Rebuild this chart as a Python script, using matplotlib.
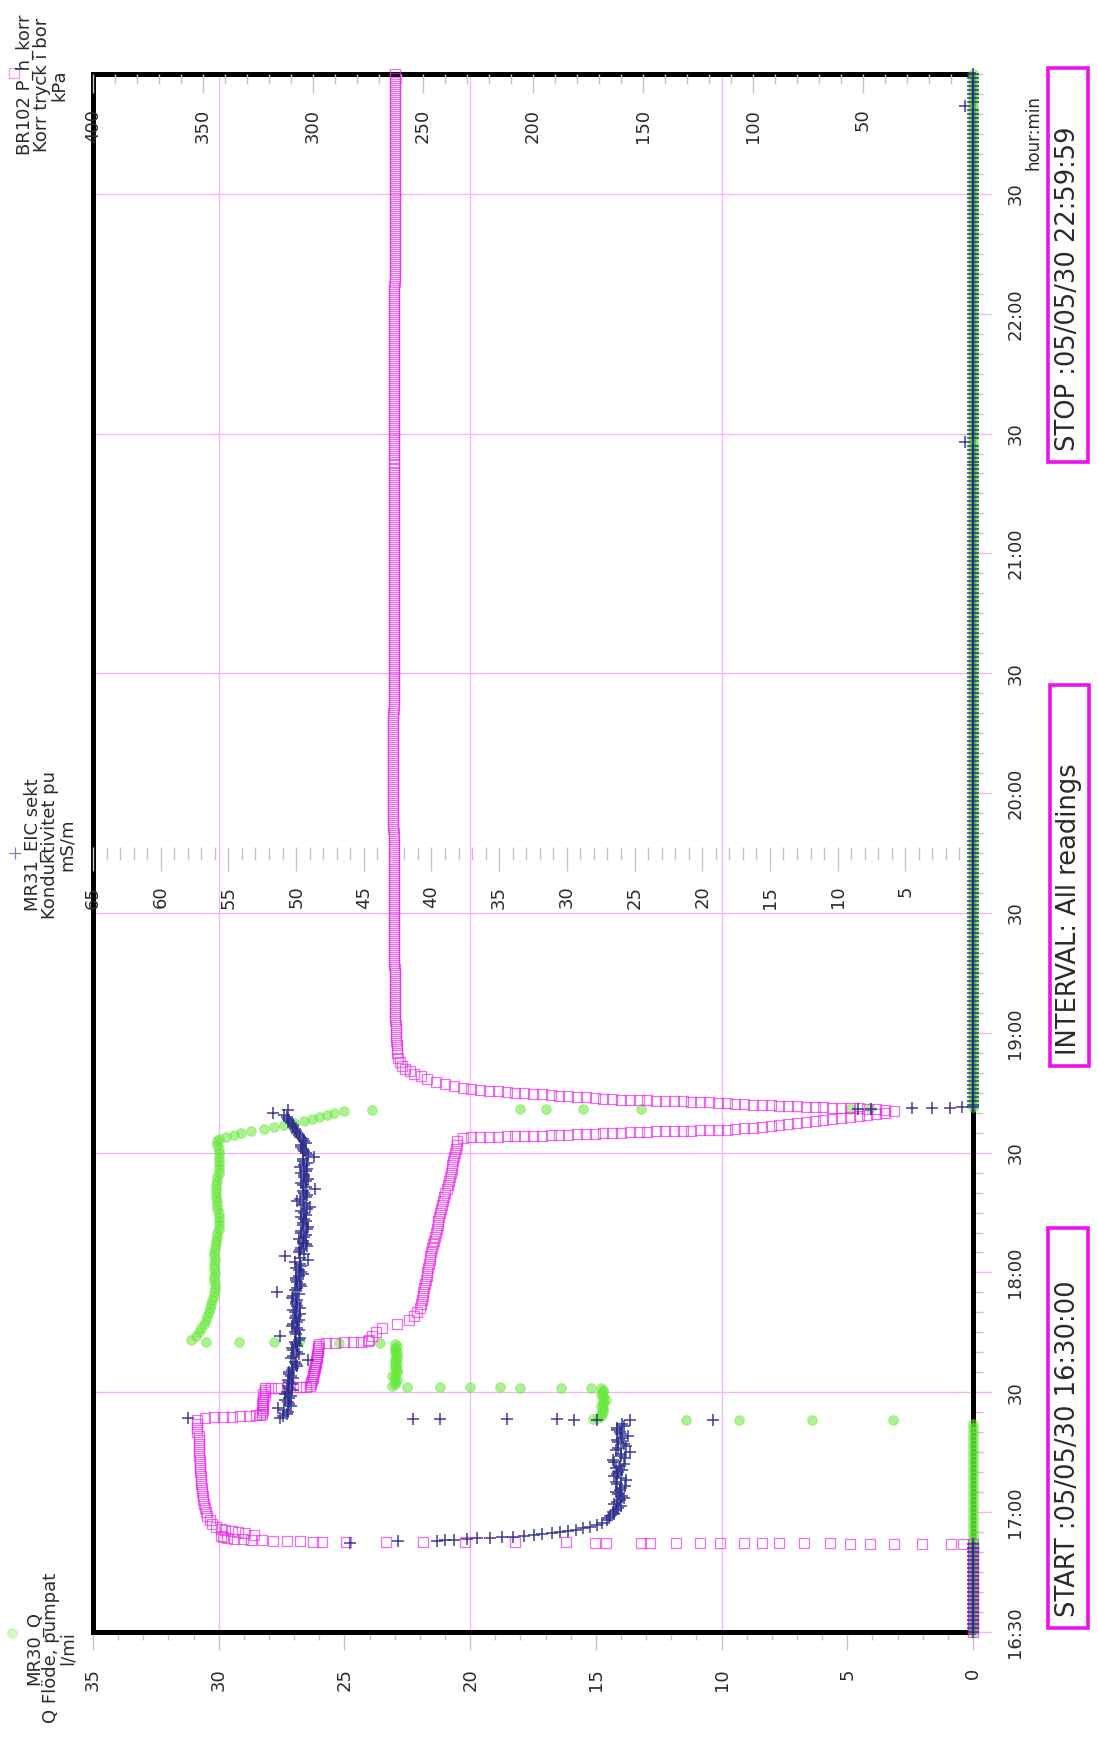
import numpy as np
import matplotlib
matplotlib.use("Agg")
import matplotlib.pyplot as plt
from matplotlib.ticker import FixedLocator, MultipleLocator
from matplotlib.patches import Rectangle
from matplotlib.lines import Line2D

plt.rcParams["font.family"] = ["DejaVu Sans"]

# ------------------------------------------------------------------
# Logged readings, time in minutes after 16:30:00 (05/05/30)
# ------------------------------------------------------------------
scan_idle_q = np.arange(0, 53, 1)    # flow channel, quiet scans 16:30-16:52
scan_idle = np.arange(0, 23, 1)      # EC and pressure, quiet scans 16:30-16:52
scan_rest = np.arange(146, 391, 1)   # all channels, quiet scans 18:56-23:00
scan_stop = [131.5, 132, 133, 134, 135, 136, 137, 138, 139, 140, 141, 142,
             143, 144, 145]

# --- MR30_Q  Q Flöde, pumpat  (l/min) ---
q_idle = [0, 0, 0, 0, 0, 0, 0, 0, 0, 0, 0, 0, 0, 0, 0, 0, 0, 0, 0, 0,
          0, 0, 0, 0, 0, 0, 0, 0, 0, 0, 0, 0, 0, 0, 0, 0, 0, 0, 0, 0,
          0, 0, 0, 0, 0, 0, 0, 0, 0, 0, 0, 0, 0]
q_step1_t = [53.0, 53.05, 53.1, 53.15, 53.2]
q_step1 = [3.2, 6.4, 9.3, 11.4, 15.1]
q_lvl1_t = [53.5, 54.0, 54.5, 55.0, 55.5, 56.0, 56.5, 57.0, 57.5, 58.0, 58.5,
            59.0, 59.5, 60.0, 60.5, 61.0]
q_lvl1 = [14.9, 14.8, 14.8, 14.7, 14.7, 14.7, 14.8, 14.7, 14.7, 14.6, 14.7,
          14.7, 14.8, 14.7, 14.7, 14.8]
q_step2_t = [61.1, 61.15, 61.2, 61.25, 61.3, 61.35, 61.4]
q_step2 = [15.2, 16.4, 18.0, 18.8, 20.0, 21.2, 22.5]
q_lvl2_t = [61.5, 62.0, 62.5, 63.0, 63.5, 64.0, 64.5, 65.0, 65.5, 66.0, 66.5,
            67.0, 67.5, 68.0, 68.5, 69.0, 69.5, 70.0, 70.5, 71.0, 71.5, 72.0]
q_lvl2 = [23.1, 23.0, 23.0, 22.9, 23.0, 23.1, 23.0, 22.9, 22.9, 23.0, 23.0,
          22.9, 23.0, 23.0, 22.9, 22.9, 23.0, 22.9, 23.0, 23.0, 22.9, 23.0]
q_step3_t = [72.4, 72.45, 72.5, 72.55, 72.6, 72.65]
q_step3 = [23.6, 25.2, 26.8, 27.8, 29.2, 30.5]
q_lvl3_t = list(range(73, 124))
q_lvl3 = [31.1, 30.9, 30.8, 30.7, 30.6, 30.5, 30.45, 30.4, 30.35, 30.3,
          30.25, 30.2, 30.2, 30.15, 30.15, 30.2, 30.2, 30.15, 30.2, 30.2,
          30.15, 30.2, 30.2, 30.15, 30.1, 30.1, 30.05, 30.05, 30.0, 30.0,
          30.0, 30.0, 30.0, 30.05, 30.05, 30.05, 30.1, 30.1, 30.1, 30.1,
          30.05, 30.05, 30.0, 30.0, 30.0, 30.0, 30.0, 30.0, 30.0, 30.05,
          30.05]
q_fall_t = [123.5, 124.0, 124.5, 125.0, 125.5, 126.0, 126.5, 127.0, 127.5,
            128.0, 128.5, 129.0, 129.5, 130.0, 130.5]
q_fall = [30.0, 29.7, 29.4, 29.1, 28.7, 28.2, 27.8, 27.4, 27.0, 26.6, 26.3,
          26.0, 25.7, 25.4, 25.0]
q_off_t = [130.75, 130.8, 130.85, 130.9, 130.95, 131.0, 131.05]
q_off = [23.9, 18.0, 17.0, 15.5, 13.2, 4.9, 4.1]
q_stop = [0, 0, 0, 0, 0, 0, 0, 0, 0, 0, 0, 0, 0, 0, 0]
q_rest = [0, 0, 0, 0, 0, 0, 0, 0, 0, 0, 0, 0, 0, 0, 0, 0, 0, 0, 0, 0,
          0, 0, 0, 0, 0, 0, 0, 0, 0, 0, 0, 0, 0, 0, 0, 0, 0, 0, 0, 0,
          0, 0, 0, 0, 0, 0, 0, 0, 0, 0, 0, 0, 0, 0, 0, 0, 0, 0, 0, 0,
          0, 0, 0, 0, 0, 0, 0, 0, 0, 0, 0, 0, 0, 0, 0, 0, 0, 0, 0, 0,
          0, 0, 0, 0, 0, 0, 0, 0, 0, 0, 0, 0, 0, 0, 0, 0, 0, 0, 0, 0,
          0, 0, 0, 0, 0, 0, 0, 0, 0, 0, 0, 0, 0, 0, 0, 0, 0, 0, 0, 0,
          0, 0, 0, 0, 0, 0, 0, 0, 0, 0, 0, 0, 0, 0, 0, 0, 0, 0, 0, 0,
          0, 0, 0, 0, 0, 0, 0, 0, 0, 0, 0, 0, 0, 0, 0, 0, 0, 0, 0, 0,
          0, 0, 0, 0, 0, 0, 0, 0, 0, 0, 0, 0, 0, 0, 0, 0, 0, 0, 0, 0,
          0, 0, 0, 0, 0, 0, 0, 0, 0, 0, 0, 0, 0, 0, 0, 0, 0, 0, 0, 0,
          0, 0, 0, 0, 0, 0, 0, 0, 0, 0, 0, 0, 0, 0, 0, 0, 0, 0, 0, 0,
          0, 0, 0, 0, 0, 0, 0, 0, 0, 0, 0, 0, 0, 0, 0, 0, 0, 0, 0, 0,
          0, 0, 0, 0, 0]

# --- MR31_EIC sekt  Konduktivitet  (mS/m) ---
ec_idle = [0, 0, 0, 0, 0, 0, 0, 0, 0, 0, 0, 0, 0, 0, 0, 0, 0, 0, 0, 0,
           0, 0, 0]
ec_rise_t = [22.4, 22.7, 22.85, 23.0, 23.15, 23.3, 23.45, 23.6, 23.75, 23.9,
             24.1, 24.3, 24.5, 24.75, 25.0, 25.3, 25.6, 26.0, 26.4, 26.9, 27.4]
ec_rise = [46.0, 42.5, 39.6, 39.0, 38.3, 37.4, 36.6, 35.7, 34.8, 34.0, 33.2,
           32.4, 31.8, 31.1, 30.5, 29.9, 29.3, 28.8, 28.3, 27.8, 27.4]
ec_lvl1_t = list(range(28, 53))
ec_lvl1 = [27.0, 26.8, 26.6, 26.2, 26.5, 26.1, 25.9, 26.4, 26.0, 26.3, 25.6,
           26.5, 26.2, 26.4, 25.8, 26.6, 26.0, 25.3, 26.2, 25.8, 26.3, 25.5,
           26.1, 26.3, 25.9]
ec_lvl1b_t = [28.5, 29.5, 30.5, 31.5, 32.5, 33.5, 34.5, 35.5, 36.5, 37.5,
              38.5, 39.5, 40.5, 41.5, 42.5, 43.5, 44.5, 45.5, 46.5, 47.5,
              48.5, 49.5, 50.5, 51.5]
ec_lvl1b = [26.9, 26.5, 26.4, 26.0, 26.3, 25.8, 26.2, 26.1, 25.7, 26.4, 26.0,
            26.3, 25.9, 26.1, 26.5, 25.7, 26.0, 26.4, 25.6, 26.2, 25.9, 26.0,
            26.3, 25.8]
ec_jump_t = [53.0, 53.05, 53.1, 53.15, 53.2, 53.25, 53.3, 53.35, 53.45, 53.55]
ec_jump = [19.2, 25.3, 27.8, 29.5, 30.7, 34.4, 39.4, 41.4, 58.0, 51.2]
ec_lvl2_t = list(range(54, 131))
ec_lvl2 = [51.0, 50.6, 51.3, 50.5, 50.8, 50.4, 50.7, 50.5, 50.3, 50.6,
           50.4, 50.5, 50.2, 50.0, 49.1, 50.2, 49.9, 50.3, 50.0, 49.8,
           51.2, 50.1, 49.9, 50.2, 49.8, 50.0, 50.1, 49.7, 50.0, 49.9,
           50.2, 51.4, 49.9, 49.7, 50.0, 49.8, 49.6, 50.0, 49.7, 49.1,
           50.8, 49.8, 49.6, 49.3, 49.5, 49.4, 49.6, 49.2, 49.5, 49.3,
           49.6, 49.4, 49.2, 49.5, 49.9, 49.3, 49.4, 48.6, 49.5, 49.3,
           49.4, 49.6, 49.2, 49.4, 49.5, 48.7, 49.3, 49.5, 49.6, 49.4,
           49.7, 49.9, 50.1, 50.2, 50.5, 50.7, 51.7]
ec_lvl2b_t = [54.5, 55.5, 56.5, 57.5, 58.5, 59.5, 60.5, 61.5, 62.5, 63.5,
              64.5, 65.5, 66.5, 67.5, 68.5, 69.5, 70.5, 71.5, 72.5, 73.5,
              74.5, 75.5, 76.5, 77.5, 78.5, 79.5, 80.5, 81.5, 82.5, 83.5,
              84.5, 85.5, 86.5, 87.5, 88.5, 89.5, 90.5, 91.5, 92.5, 93.5,
              94.5, 95.5, 96.5, 97.5, 98.5, 99.5, 100.5, 101.5, 102.5, 103.5,
              104.5, 105.5, 106.5, 107.5, 108.5, 109.5, 110.5, 111.5, 112.5,
              113.5, 114.5, 115.5, 116.5, 117.5, 118.5, 119.5, 120.5, 121.5,
              122.5, 123.5, 124.5, 125.5, 126.5, 127.5, 128.5, 129.5]
ec_lvl2b = [50.7, 50.9, 50.4, 50.6, 50.5, 50.8, 50.3, 50.6, 50.5, 50.2,
            50.5, 50.3, 49.9, 50.1, 50.4, 49.8, 50.2, 49.9, 50.1, 49.7,
            50.0, 49.8, 50.3, 49.9, 50.1, 49.7, 50.2, 49.9, 50.0, 50.3,
            49.8, 50.1, 49.6, 49.9, 50.0, 49.5, 49.8, 49.6, 50.1, 49.7,
            49.4, 49.7, 49.2, 49.5, 49.8, 49.3, 49.6, 49.1, 49.5, 49.4,
            49.3, 49.6, 49.0, 49.4, 49.7, 49.2, 49.5, 49.3, 49.6, 49.1,
            49.4, 49.3, 49.7, 49.2, 49.5, 49.1, 49.4, 49.6, 49.3, 49.5,
            49.8, 50.0, 50.2, 50.4, 50.6, 50.9]
ec_off_t = [130.6, 130.9, 131.0, 131.1, 131.15, 131.2, 131.3]
ec_off = [50.6, 8.5, 7.5, 4.5, 3.0, 1.7, 0.8]
ec_stop = [0, 0, 0, 0, 0, 0, 0, 0, 0, 0, 0, 0, 0, 0, 0]
ec_rest = [0, 0, 0, 0, 0, 0, 0, 0, 0, 0, 0, 0, 0, 0, 0, 0, 0, 0, 0, 0,
           0, 0, 0, 0, 0, 0, 0, 0, 0, 0, 0, 0, 0, 0, 0, 0, 0, 0, 0, 0,
           0, 0, 0, 0, 0, 0, 0, 0, 0, 0, 0, 0, 0, 0, 0, 0, 0, 0, 0, 0,
           0, 0, 0, 0, 0, 0, 0, 0, 0, 0, 0, 0, 0, 0, 0, 0, 0, 0, 0, 0,
           0, 0, 0, 0, 0, 0, 0, 0, 0, 0, 0, 0, 0, 0, 0, 0, 0, 0, 0, 0,
           0, 0, 0, 0, 0, 0, 0, 0, 0, 0, 0, 0, 0, 0, 0, 0, 0, 0, 0, 0,
           0, 0, 0, 0, 0, 0, 0, 0, 0, 0, 0, 0, 0, 0, 0, 0, 0, 0, 0, 0,
           0, 0, 0, 0, 0, 0, 0, 0, 0, 0, 0, 0, 0.6, 0, 0, 0, 0, 0, 0, 0,
           0, 0, 0, 0, 0, 0, 0, 0, 0, 0, 0, 0, 0, 0, 0, 0, 0, 0, 0, 0,
           0, 0, 0, 0, 0, 0, 0, 0, 0, 0, 0, 0, 0, 0, 0, 0, 0, 0, 0, 0,
           0, 0, 0, 0, 0, 0, 0, 0, 0, 0, 0, 0, 0, 0, 0, 0, 0, 0, 0, 0,
           0, 0, 0, 0, 0, 0, 0, 0, 0, 0, 0, 0, 0, 0, 0, 0, 0.6, 0, 0, 0,
           0, 0, 0, 0, 0]

# --- BR102 P_h_korr  Korr tryck i borrhål  (kPa) ---
p_idle = [0, 0, 0, 0, 0, 0, 0, 0, 0, 0, 0, 0, 0, 0, 0, 0, 0, 0, 0, 0,
          0, 0, 0]
p_jump_t = [22.05, 22.07, 22.09, 22.11, 22.13, 22.15, 22.17, 22.19, 22.21,
            22.23, 22.25, 22.27, 22.29, 22.31, 22.33, 22.35, 22.37, 22.39,
            22.41, 22.43, 22.45, 22.47, 22.49, 22.51, 22.53]
p_jump = [4.5, 10, 23, 36, 47, 56, 65, 77, 88, 96, 104, 115, 124, 135, 147,
          151, 167, 172, 185, 208, 231, 250, 267, 285, 296]
p_rise_t = [22.6, 22.7, 22.8, 22.9, 23.0, 23.1, 23.2, 23.4, 23.6, 23.8, 24.1,
            24.4, 24.7, 25.0, 25.3, 25.6, 25.9, 26.2]
p_rise = [300, 306, 312, 318, 323, 328, 332, 336, 339, 341, 342,
          327, 331, 334, 337, 340, 342, 344]
p_lvl1_t = list(range(27, 54))
p_lvl1 = [346, 347, 348, 348.5, 349, 349.5, 350, 350, 350.5, 350.5, 351, 351,
          351, 351.5, 351.5, 351.5, 351.5, 352, 352, 352, 352, 352, 352,
          352.5, 352.5, 352.5, 352.5]
p_step1_t = [53.6, 53.7, 53.8, 53.9, 54.0, 54.1, 54.2, 54.3]
p_step1 = [349, 345, 341, 337, 333, 329, 326, 324]
p_lvl2_t = [54.5, 55.0, 55.5, 56.0, 56.5, 57.0, 57.5, 58.0, 58.5, 59.0, 59.5,
            60.0, 60.5, 61.0]
p_lvl2 = [323, 323, 322.5, 322.5, 322.5, 323, 322.5, 322.5, 322.5, 322,
          322.5, 322, 322, 322]
p_step2_t = [61.1, 61.15, 61.2, 61.25, 61.3, 61.35]
p_step2 = [319, 316, 312, 309, 306, 303]
p_lvl3_t = [61.5, 62.0, 62.5, 63.0, 63.5, 64.0, 64.5, 65.0, 65.5, 66.0, 66.5,
            67.0, 67.5, 68.0, 68.5, 69.0, 69.5, 70.0, 70.5, 71.0, 71.5, 72.0]
p_lvl3 = [301.5, 301, 300.8, 300.5, 300.2, 300, 299.8, 299.6, 299.4, 299.2,
          299, 298.8, 298.6, 298.5, 298.3, 298.2, 298, 297.9, 297.8, 297.6,
          297.5, 297.4]
p_step3_t = [72.3, 72.4, 72.5, 72.6, 72.7, 72.8]
p_step3 = [294, 290, 286, 282, 278, 275]
p_decl_t = list(range(73, 124))
p_decl = [274.5, 273, 271.5, 268.5, 262, 256.5, 254, 252.5, 251.5, 251,
          250.6, 250.2, 249.8, 249.5, 249.2, 248.8, 248.4, 248.0, 247.6,
          247.3, 247.0, 246.6, 246.2, 245.8, 245.4, 245.0, 244.6, 244.2,
          243.8, 243.4, 243.0, 242.6, 242.1, 241.6, 241.2, 240.8, 240.3,
          239.8, 239.3, 238.8, 238.3, 237.9, 237.4, 237.0, 236.6, 236.2,
          235.8, 235.4, 235.0, 234.7, 234.4]
p_draw_t = [123.75, 123.8, 123.9, 123.95, 124.0, 124.05, 124.1, 124.15, 124.2,
            124.25, 124.35, 124.45, 124.5, 124.6, 124.65, 124.75, 124.8,
            124.9, 125.0, 125.05, 125.15, 125.25, 125.3, 125.35, 125.4,
            125.45, 125.5, 125.55, 125.6, 125.65, 125.75, 125.9, 126.05,
            126.25, 126.45, 126.65, 126.85, 127.05, 127.3, 127.55, 127.8,
            128.05, 128.3, 128.55, 128.85, 129.15, 129.45, 129.75, 130.0,
            130.3]
p_draw = [232, 228, 224, 220, 216, 212, 208, 204, 200, 196, 192, 188, 184,
          180, 176, 172, 168, 164, 160, 156, 152, 148, 144, 140, 136, 132,
          128, 124, 120, 116, 112, 108, 104, 100, 96, 92, 88, 84, 80, 76, 72,
          68, 64, 60, 56, 52, 48, 44, 40, 36]
p_rec_t = [130.65, 130.8, 130.95, 131.05, 131.15, 131.2, 131.25, 131.3,
           131.35, 131.45, 131.55, 131.6, 131.7, 131.8, 131.9, 132.0, 132.15,
           132.25, 132.35, 132.45, 132.55, 132.65, 132.7, 132.8, 132.85,
           132.9, 132.95, 133.05, 133.1, 133.15, 133.2, 133.35, 133.5,
           133.65, 133.8, 133.95, 134.1, 134.25, 134.4, 134.55, 134.7,
           134.85, 134.95, 135.1, 135.3, 135.5, 135.65, 135.85, 136.2, 136.7,
           137.2, 137.8, 138.5, 139.1, 139.8, 140.4, 141.0, 141.8, 142.8,
           143.8, 145.0]
p_rec = [40, 44, 48, 52, 56, 60, 64, 68, 72, 76, 80, 84, 88, 92, 96, 100, 104,
         108, 112, 116, 120, 124, 128, 132, 136, 140, 144, 148, 152, 156, 160,
         164, 168, 172, 176, 180, 184, 188, 192, 196, 200, 204, 208, 212, 216,
         220, 224, 228, 232, 236, 240, 244, 248, 251, 254, 256, 258, 259.5,
         260.5, 261.2, 261.7]
p_rest = [261.9, 262.0, 262.1, 262.2, 262.3, 262.3, 262.4, 262.5, 262.5, 262.6,
          262.6, 262.7, 262.7, 262.7, 262.8, 262.8, 262.8, 262.9, 262.9, 262.9,
          262.9, 263.0, 263.0, 263.0, 263.0, 263.1, 263.1, 263.1, 263.1, 263.1,
          263.2, 263.2, 263.2, 263.2, 263.2, 263.2, 263.3, 263.3, 263.3, 263.3,
          263.3, 263.3, 263.3, 263.3, 263.4, 263.4, 263.4, 263.4, 263.4, 263.4,
          263.4, 263.4, 263.4, 263.4, 263.4, 263.5, 263.5, 263.5, 263.5, 263.5,
          263.5, 263.5, 263.5, 263.5, 263.5, 263.5, 263.5, 263.5, 263.5, 263.5,
          263.5, 263.5, 263.5, 263.5, 263.5, 263.5, 263.5, 263.5, 263.5, 263.5,
          263.5, 263.5, 263.5, 263.5, 263.5, 263.4, 263.4, 263.4, 263.4, 263.4,
          263.4, 263.4, 263.4, 263.4, 263.4, 263.4, 263.4, 263.4, 263.4, 263.4,
          263.4, 263.4, 263.4, 263.3, 263.3, 263.3, 263.3, 263.3, 263.3, 263.3,
          263.3, 263.3, 263.3, 263.3, 263.3, 263.3, 263.3, 263.3, 263.3, 263.3,
          263.3, 263.3, 263.2, 263.2, 263.2, 263.2, 263.2, 263.2, 263.2, 263.2,
          263.2, 263.2, 263.2, 263.2, 263.2, 263.2, 263.2, 263.2, 263.2, 263.2,
          263.2, 263.2, 263.1, 263.1, 263.1, 263.1, 263.1, 263.1, 263.1, 263.1,
          263.1, 263.1, 263.1, 263.1, 263.1, 263.1, 263.1, 263.1, 263.1, 263.1,
          263.1, 263.0, 263.0, 263.0, 263.0, 263.0, 263.0, 263.0, 263.0, 263.0,
          263.0, 263.0, 263.0, 263.0, 263.0, 263.0, 263.0, 263.0, 263.0, 263.0,
          263.0, 263.0, 263.0, 263.0, 263.0, 263.0, 263.0, 263.0, 263.0, 263.0,
          263.0, 263.0, 262.9, 262.9, 262.9, 262.9, 262.9, 262.9, 262.9, 262.9,
          262.9, 262.9, 262.9, 262.9, 262.9, 262.9, 262.9, 262.9, 262.9, 262.9,
          262.9, 262.9, 262.9, 262.9, 262.8, 262.8, 262.8, 262.8, 262.8, 262.8,
          262.8, 262.8, 262.8, 262.8, 262.8, 262.8, 262.8, 262.8, 262.8, 262.8,
          262.8, 262.8, 262.8, 262.8, 262.8, 262.8, 262.8, 262.8, 262.8, 262.8,
          262.8, 262.8, 262.8, 262.8, 262.8]

# Axis labelling
flow_ticks = [0, 5, 10, 15, 20, 25, 30, 35]
ec_ticks = [5, 10, 15, 20, 25, 30, 35, 40, 45, 50, 55, 60, 65]
p_ticks = [50, 100, 150, 200, 250, 300, 350, 400]
time_ticks = [0, 30, 60, 90, 120, 150, 180, 210, 240, 270, 300, 330, 360]
time_labels = ["16:30", "17:00", "30", "18:00", "30", "19:00", "30", "20:00",
               "30", "21:00", "30", "22:00", "30"]

# ------------------------------------------------------------------
t_q = np.concatenate([scan_idle_q, q_step1_t, q_lvl1_t, q_step2_t, q_lvl2_t,
                      q_step3_t, q_lvl3_t, q_fall_t, q_off_t, scan_stop,
                      scan_rest])
v_q = np.concatenate([q_idle, q_step1, q_lvl1, q_step2, q_lvl2, q_step3,
                      q_lvl3, q_fall, q_off, q_stop, q_rest])
t_ec = np.concatenate([scan_idle, ec_rise_t, ec_lvl1_t, ec_lvl1b_t, ec_jump_t,
                       ec_lvl2_t, ec_lvl2b_t, ec_off_t, scan_stop, scan_rest])
v_ec = np.concatenate([ec_idle, ec_rise, ec_lvl1, ec_lvl1b, ec_jump, ec_lvl2,
                       ec_lvl2b, ec_off, ec_stop, ec_rest])
t_p = np.concatenate([scan_idle, p_jump_t, p_rise_t, p_lvl1_t, p_step1_t,
                      p_lvl2_t, p_step2_t, p_lvl3_t, p_step3_t, p_decl_t,
                      p_draw_t, p_rec_t, scan_rest])
v_p = np.concatenate([p_idle, p_jump, p_rise, p_lvl1, p_step1, p_lvl2,
                      p_step2, p_lvl3, p_step3, p_decl, p_draw, p_rec, p_rest])

W, H = 1098, 1738
fig = plt.figure(figsize=(W / 100, H / 100), dpi=100)
L, R, T, B = 93, 973, 74, 1632
ax = fig.add_axes([L / W, 1 - B / H, (R - L) / W, (B - T) / H])

TXT = "#2a2a2a"
TICK = "#c4c4c4"
PINK = "#f2b8f2"
GREEN = "#68e83a"
MAGENTA = "#e828e8"
NAVY = "#28288c"

# main axes: flow along the horizontal, clock time upwards
ax.set_xlim(35, 0)
ax.set_ylim(0, 390)
for sp in ax.spines.values():
    sp.set_linewidth(3.6)
    sp.set_color("black")
    sp.set_zorder(2.6)

ax.xaxis.set_major_locator(FixedLocator(flow_ticks))
ax.xaxis.set_minor_locator(MultipleLocator(1))
ax.set_xticklabels([str(v) for v in flow_ticks])
ax.tick_params(axis="x", which="major", direction="out", length=13, width=1,
               color=TICK, pad=13, labelsize=13, labelrotation=90,
               labelcolor=TXT)
ax.tick_params(axis="x", which="minor", direction="out", length=6, width=1,
               color=TICK)

ax.yaxis.tick_right()
ax.yaxis.set_major_locator(FixedLocator(time_ticks))
ax.yaxis.set_minor_locator(MultipleLocator(5))
ax.set_yticklabels(time_labels)
ax.tick_params(axis="y", which="major", direction="out", length=14, width=1,
               color=PINK, pad=10, labelsize=13, labelrotation=90,
               labelcolor=TXT)
ax.tick_params(axis="y", which="minor", direction="out", length=7, width=1,
               color=TICK)
for lab in ax.get_yticklabels():
    lab.set_va("center")

# pink reference grid
for v in (10, 20, 30):
    ax.axvline(v, color=PINK, lw=1, zorder=0.5)
for m in (60, 120, 180, 240, 300, 360):
    ax.axhline(m, color=PINK, lw=1, zorder=0.5)

# pressure scale along the top edge
axp = ax.twiny()
axp.set_xlim(400, 0)
axp.xaxis.set_ticks_position("bottom")
axp.spines["bottom"].set_position(("axes", 1.0))
for sp in axp.spines.values():
    sp.set_visible(False)
axp.xaxis.set_major_locator(FixedLocator(p_ticks))
axp.xaxis.set_minor_locator(MultipleLocator(10))
axp.set_xticklabels([str(v) for v in p_ticks])
axp.tick_params(axis="x", which="major", direction="out", length=14, width=1,
                color=TICK, pad=11, labelsize=13, labelrotation=90,
                labelcolor=TXT)
axp.tick_params(axis="x", which="minor", direction="out", length=7, width=1,
                color=TICK)

# conductivity scale across the middle
axc = ax.twiny()
axc.set_xlim(65, 0)
axc.xaxis.set_ticks_position("bottom")
axc.spines["bottom"].set_position(("axes", 0.504))
for sp in axc.spines.values():
    sp.set_visible(False)
axc.xaxis.set_major_locator(FixedLocator(ec_ticks))
axc.xaxis.set_minor_locator(MultipleLocator(1))
axc.set_xticklabels([str(v) for v in ec_ticks])
axc.tick_params(axis="x", which="major", direction="out", length=17, width=1,
                color=TICK, pad=11, labelsize=13, labelrotation=90,
                labelcolor=TXT)
axc.tick_params(axis="x", which="minor", direction="out", length=9, width=1,
                color=TICK)

# data
ax.plot(v_q, t_q, ls="none", marker="o", ms=7, mfc=GREEN, mec=GREEN,
        mew=0.6, alpha=0.55, clip_on=False, zorder=3)
axp.plot(v_p, t_p, ls="none", marker="s", ms=7, mfc="none", mec=MAGENTA,
         mew=0.9, alpha=0.68, clip_on=False, zorder=3)
axc.plot(v_ec, t_ec, ls="none", marker="+", ms=8, color=NAVY,
         mew=1.1, alpha=0.9, clip_on=False, zorder=3)

# channel captions
cap_kw = dict(rotation=90, ha="center", va="center", multialignment="center",
              fontsize=13, linespacing=0.92, color=TXT)
fig.text(51 / W, 1 - 1648 / H, "MR30_Q\nQ Flöde, pumpat\nl/mi", **cap_kw)
fig.text(50 / W, 1 - 845 / H, "MR31_EIC sekt\nKonduktivitet pu\nmS/m", **cap_kw)
fig.text(42 / W, 1 - 85 / H, "BR102 P_h_korr\nKorr tryck i bor\nkPa", **cap_kw)
fig.add_artist(Line2D([12 / W], [1 - 1633 / H], marker="o", ms=7, mfc=GREEN,
                      mec=GREEN, mew=0.6, alpha=0.3,
                      transform=fig.transFigure))
fig.add_artist(Line2D([15 / W], [1 - 853 / H], marker="+", ms=8,
                      color=NAVY, mew=0.9, alpha=0.6,
                      transform=fig.transFigure))
fig.add_artist(Line2D([14 / W], [1 - 73 / H], marker="s", ms=7, mfc="none",
                      mec=MAGENTA, mew=0.9, alpha=0.5,
                      transform=fig.transFigure))

fig.text(1033 / W, 1 - 133 / H, "hour:min", rotation=90, ha="center",
         va="center", fontsize=12, color=TXT)

# run information boxes
boxes = [((1048, 1228, 1088, 1628), "START :05/05/30 16:30:00"),
         ((1050, 685, 1089, 1066), "INTERVAL: All readings"),
         ((1048, 68, 1088, 462), "STOP :05/05/30 22:59:59")]
for (x0, y0, x1, y1), txt in boxes:
    fig.add_artist(Rectangle((x0 / W, 1 - y1 / H), (x1 - x0) / W,
                             (y1 - y0) / H, transform=fig.transFigure,
                             fill=False, ec="#ee10ee", lw=2.6))
    fig.text((x0 + x1) / 2 / W, 1 - (y1 - 11) / H, txt, rotation=90,
             ha="center", va="bottom", fontsize=18.5, color=TXT)

fig.savefig("out.png", dpi=100)
